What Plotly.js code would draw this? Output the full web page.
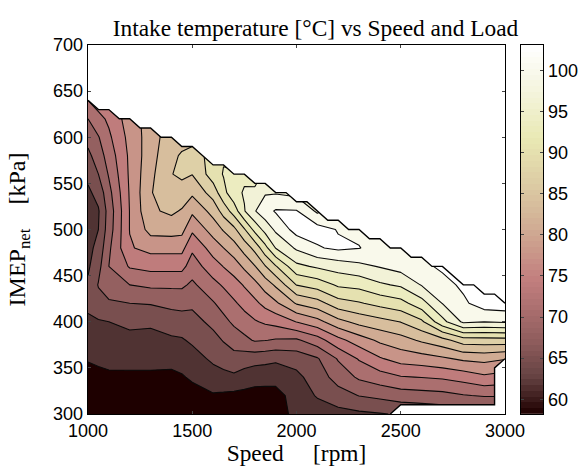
<!DOCTYPE html>
<html><head><meta charset="utf-8">
<script src="https://cdn.plot.ly/plotly-3.0.1.min.js"></script>
<style>html,body{margin:0;padding:0;background:#fff}#c{width:579px;height:466px}</style></head>
<body><div id="c"></div>
<script>
// Speed [rpm], IMEP_net [kPa]
const speed = [1000,1050,1100,1200,1300,1400,1450,1500,1600,1650,1700,1750,1800,1850,1900,2000,2100,2200,2300,2400,2500,2600,2700,2800,2900,3000];
const imep = [300,320,340,360,380,400,420,440,460,480,500,520,540,560,580,600,620,640];
// Intake temperature [°C] per speed column, from 300 kPa upward
const t1000 = [57.6,58.5,60.0,61.7,62.8,64.1,65.2,65.1,64.1,63.6,63.0,63.3,64.0,65.4,67.0,68.9,71.0,74.2];
const t1050 = [57.9,58.8,60.6,62.0,63.2,64.3,66.7,68.0,66.8,65.6,64.6,64.3,65.7,67.8,69.4,70.8,73.2,75.8];
const t1100 = [58.2,59.3,60.9,62.2,63.5,64.6,67.3,69.7,71.0,70.4,69.4,69.1,70.0,71.3,72.4,73.6,74.8,76.1];
const t1200 = [57.9,59.0,60.8,62.4,63.6,65.4,67.8,71.0,74.5,77.1,77.5,77.5,77.7,77.9,78.0,78.4,79.0,79.3];
const t1300 = [57.9,59.0,60.8,62.4,63.5,65.2,68.0,71.6,75.2,78.4,81.7,83.3,83.6,83.0,82.5,82.2,82.0,81.9];
const t1400 = [57.9,58.7,60.6,62.5,64.1,66.2,68.6,71.6,75.2,78.4,81.9,84.4,85.7,86.9,86.4,85.7,85.4,85.1];
const t1450 = [57.9,58.4,61.1,62.7,64.3,66.4,68.8,71.6,75.2,78.4,81.6,83.5,85.7,87.6,87.3,86.0,85.7,85.4];
const t1500 = [58.2,60.1,61.9,63.3,65.1,66.7,68.4,70.4,72.6,74.8,78.0,81.2,84.4,87.1,87.3,86.7,86.4,86.0];
const t1600 = [59.2,61.1,63.2,65.2,66.8,68.6,70.7,73.2,76.0,78.8,82.0,84.9,88.4,91.8,92.4,92.8,93.1,93.3];
const t1650 = [59.4,60.9,63.6,66.0,68.0,70.1,72.2,74.6,77.5,80.6,84.1,88.3,92.4,93.6,93.1,93.1,93.1,93.1];
const t1700 = [59.6,60.6,64.0,66.7,69.2,71.6,73.7,76.0,79.0,82.4,86.2,91.6,95.6,93.5,93.1,93.1,93.1,93.1];
const t1750 = [59.8,60.5,63.2,66.2,70.2,72.8,75.2,77.7,81.2,85.1,89.9,96.4,96.9,96.0,95.6,95.6,95.6,95.6];
const t1800 = [60.0,60.4,62.5,65.9,71.3,73.9,76.6,79.6,83.6,88.0,94.4,99.6,97.2,95.3,95.0,95.0,95.0,95.0];
const t1850 = [59.5,60.3,62.5,65.6,71.1,74.7,78.4,82.0,86.8,92.4,97.7,101.7,99.5,97.2,97.2,97.2,97.2,97.2];
const t1900 = [59.8,60.3,62.5,65.2,70.7,75.3,80.0,84.3,89.9,96.7,100.4,103.3,99.5,97.6,97.2,97.2,97.2,97.2];
const t2000 = [62.4,62.7,63.8,65.9,70.5,77.5,84.1,90.3,95.8,100.3,104.3,103.2,98.8,98.2,97.9,97.9,97.9,97.9];
const t2100 = [62.8,64.9,66.2,67.5,72.8,79.5,85.7,91.6,97.1,102.7,104.3,99.2,98.2,98.0,98.0,98.0,98.0,98.0];
const t2200 = [63.5,66.5,69.1,71.3,76.4,82.8,88.9,93.9,98.0,103.6,102.8,101.7,101.5,101.5,101.5,101.5,101.5,101.5];
const t2300 = [64.0,67.9,71.5,74.5,79.0,84.8,89.9,94.4,99.0,103.1,102.4,101.4,101.4,101.4,101.4,101.4,101.4,101.4];
const t2400 = [64.4,68.6,72.8,77.1,81.2,85.9,91.2,96.1,100.0,102.0,101.7,101.4,101.4,101.4,101.4,101.4,101.4,101.4];
const t2500 = [64.9,69.4,74.0,78.7,82.5,87.1,92.3,97.1,101.1,102.5,102.0,101.7,101.7,101.7,101.7,101.7,101.7,101.7];
const t2600 = [65.2,69.7,74.3,79.2,84.3,89.6,95.3,100.0,102.2,103.3,103.5,103.5,103.5,103.5,103.5,103.5,103.5,103.5];
const t2700 = [65.6,70.0,74.7,80.1,85.9,95.6,99.9,101.9,103.6,104.3,104.3,104.3,104.3,104.3,104.3,104.3,104.3,104.3];
const t2800 = [65.2,70.8,75.5,81.2,88.6,100.4,102.4,103.6,104.6,104.6,104.6,104.6,104.6,104.6,104.6,104.6,104.6,104.6];
const t2900 = [65.2,71.3,76.8,81.6,88.8,99.9,104.6,105.2,105.4,105.4,105.4,105.4,105.4,105.4,105.4,105.4,105.4,105.4];
const t3000 = [65.2,71.3,76.1,80.8,88.9,100.3,104.9,105.6,105.8,105.8,105.8,105.8,105.8,105.8,105.8,105.8,105.8,105.8];
const tempColumns = [t1000,t1050,t1100,t1200,t1300,t1400,t1450,t1500,t1600,t1650,t1700,t1750,t1800,t1850,t1900,t2000,t2100,t2200,t2300,t2400,t2500,t2600,t2700,t2800,t2900,t3000];

// Upper limit of the measured map
const limitSpeed = [1000,1050,1100,1150,1200,1250,1300,1350,1400,1450,1500,1550,1600,1650,1700,1750,1800,1850,1900,1950,2000,2050,2100,2150,2200,2250,2300,2350,2400,2450,2500,2550,2600,2650,2700,2750,2800,2850,2900,2950,3000];
const limitImep = [640,630,630,620,620,610,610,600,600,590,590,580,570,570,560,560,550,550,540,540,530,530,520,510,510,500,500,490,490,480,480,470,470,460,460,450,440,440,430,430,420];
// Lower-right limit of the measured map
const lowSpeed = [2450,2500,2950,2950,3000];
const lowImep = [300,310,310,350,360];

// Contour bands and colour bar
const bandColors = ['#1e0000','#503333','#794f4f','#946060','#ab6f6f','#bf7c7c','#c89488','#d0ab93','#d7be9d','#ded0a7','#e5e1b0','#ececc0','#f2f2d7','#f9f9eb','#ffffff'];
const barValues = [58.55,59.25,59.95,60.65,61.35,62.05,62.75,63.45,64.15,64.85,65.55,66.25,66.95,67.65,68.35,69.05,69.75,70.45,71.15,71.85,72.55,73.25,73.95,74.65,75.35,76.05,76.75,77.45,78.15,78.85,79.55,80.25,80.95,81.65,82.35,83.05,83.75,84.45,85.15,85.85,86.55,87.25,87.95,88.65,89.35,90.05,90.75,91.45,92.15,92.85,93.55,94.25,94.95,95.65,96.35,97.05,97.75,98.45,99.15,99.85,100.55,101.25,101.95,102.65];
const barScale = [[0,'#1e0000'],[0.1,'#654242'],[0.2,'#905d5d'],[0.3,'#af7272'],[0.365,'#c27e7e'],[0.5,'#d0ab93'],[0.6,'#dac6a1'],[0.75,'#e9e9b4'],[0.875,'#f4f4dd'],[1,'#ffffff']];

const SERIF = '"Liberation Serif","Times New Roman",serif';
const SANS = '"Liberation Sans",Arial,sans-serif';
const W = 579, H = 466;

const traces = [
  {type:'contour', x:speed, y:imep, z:tempColumns, transpose:true,
   autocontour:false, contours:{start:61.4,end:103,size:3.2,coloring:'fill',showlines:true},
   line:{color:'#0a0a0a',width:1.1,smoothing:0}, showscale:false, hoverinfo:'skip',
   colorscale:bandColors.map((c,i)=>[i/(bandColors.length-1),c])},
  {type:'scatter', mode:'lines', x:limitSpeed.concat([3000,1000]), y:limitImep.concat([700,700]),
   fill:'toself', fillcolor:'#fff', line:{width:0}, hoverinfo:'skip', showlegend:false},
  {type:'scatter', mode:'lines', x:lowSpeed.concat([3000]), y:lowImep.concat([300]),
   fill:'toself', fillcolor:'#fff', line:{width:0}, hoverinfo:'skip', showlegend:false},
  {type:'scatter', mode:'lines', x:limitSpeed, y:limitImep, line:{color:'#000',width:1.4}, hoverinfo:'skip', showlegend:false},
  {type:'scatter', mode:'lines', x:lowSpeed, y:lowImep, line:{color:'#000',width:1.4}, hoverinfo:'skip', showlegend:false},
  {type:'heatmap', x:[0], y:barValues, z:barValues.map(v=>[v]), xaxis:'x2', yaxis:'y2', zmin:58.2, zmax:103,
   colorscale:barScale, showscale:false, hoverinfo:'skip'}
];

const layout = {
  width:W, height:H, margin:{l:0,r:0,t:0,b:0}, paper_bgcolor:'#fff', plot_bgcolor:'#fff', showlegend:false,
  font:{family:SANS,size:18,color:'#000'},
  title:{text:'Intake temperature [°C] vs Speed and Load', font:{family:SERIF,size:23.4,color:'#000'},
         x:315.5/W, xanchor:'center', y:1-28/H, yanchor:'middle'},
  xaxis:{domain:[88/W,505/W], range:[1000,3000], dtick:500, tick0:1000, ticks:'inside', ticklen:3, tickwidth:1,
         mirror:'ticks', showline:true, linecolor:'#000', linewidth:1.3, showgrid:false, zeroline:false, layer:'above traces',
         tickfont:{family:SANS,size:18}, title:{text:'Speed\u00a0\u00a0\u00a0\u00a0\u00a0[rpm]', font:{family:SERIF,size:23.4}, standoff:0}},
  yaxis:{domain:[52/H,421/H], range:[300,700], dtick:50, tick0:300, ticks:'inside', ticklen:3, tickwidth:1,
         mirror:'ticks', showline:true, linecolor:'#000', linewidth:1.3, showgrid:false, zeroline:false, layer:'above traces',
         tickfont:{family:SANS,size:18}, title:{text:'IMEP<sub>net</sub>\u00a0\u00a0\u00a0\u00a0[kPa]', font:{family:SERIF,size:24}, standoff:20}},
  xaxis2:{domain:[521/W,543/W], range:[-0.5,0.5], anchor:'y2', showticklabels:false, ticks:'', showline:true, mirror:true,
          linecolor:'#000', linewidth:1.3, showgrid:false, zeroline:false},
  yaxis2:{domain:[52/H,421/H], range:[58.2,103.1], anchor:'x2', side:'right', dtick:5, tick0:60, ticks:'inside', ticklen:3, tickwidth:1,
          mirror:'ticks', showline:true, linecolor:'#000', linewidth:1.3, showgrid:false, zeroline:false, layer:'above traces',
          tickfont:{family:SANS,size:18}}
};
Plotly.newPlot('c', traces, layout, {displayModeBar:false, staticPlot:true});
</script></body></html>
